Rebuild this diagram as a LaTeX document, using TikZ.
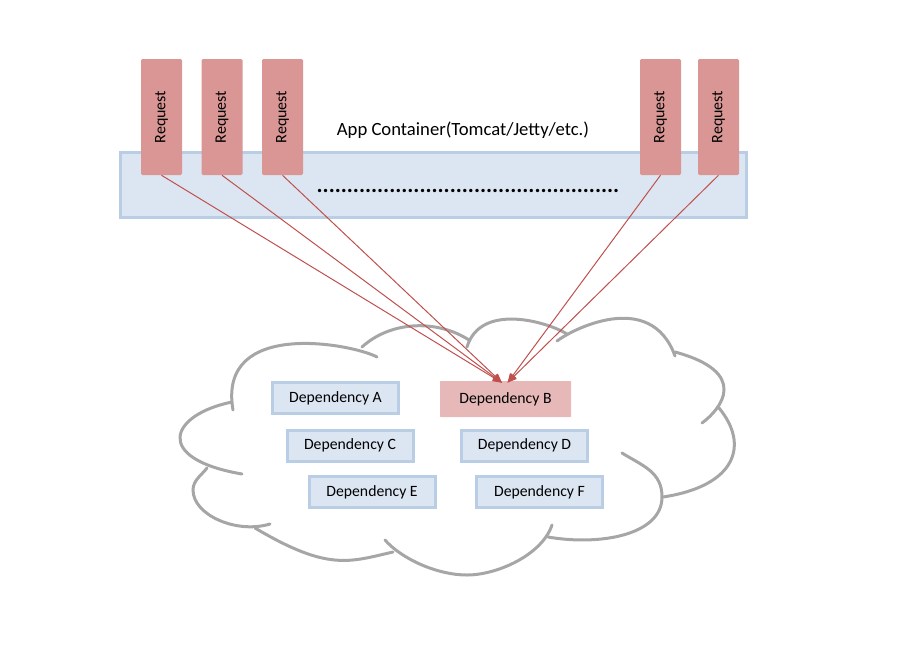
\documentclass[tikz,border=0pt]{standalone}
\usepackage{fontspec}
\setmainfont{Carlito}
\usetikzlibrary{arrows.meta,calc}
\definecolor{boxfill}{HTML}{DCE6F2}
\definecolor{boxline}{HTML}{B9CDE5}
\definecolor{reqfill}{HTML}{D99694}
\definecolor{depBfill}{HTML}{E6B9B8}
\definecolor{arrowc}{HTML}{C0504D}
\definecolor{cloudc}{HTML}{A6A6A6}
\tikzset{
  container/.style={draw=boxline, fill=boxfill, line width=2.25pt, inner sep=0pt,
    minimum width=626*0.75pt, minimum height=65*0.75pt},
  reqbox/.style={fill=reqfill, rounded corners=1pt, inner sep=0pt,
    minimum width=41*0.75pt, minimum height=116*0.75pt, font=\fontsize{12}{14}\selectfont},
  depbox/.style={draw=boxline, fill=boxfill, line width=2.25pt, inner sep=0pt,
    minimum width=126*0.75pt, minimum height=31*0.75pt, font=\fontsize{11.8}{14}\selectfont},
  hotbox/.style={fill=depBfill, inner sep=0pt, rounded corners=0.5pt,
    minimum width=131*0.75pt, minimum height=36*0.75pt, font=\fontsize{11.8}{14}\selectfont},
  reqarrow/.style={draw=arrowc, line width=0.75pt, -{Triangle[length=7pt,width=5.5pt]}},
  cloudline/.style={draw=cloudc, line width=2.25pt, line cap=round},
}
\begin{document}
\begin{tikzpicture}[x=0.75pt,y=-0.75pt]
\useasboundingbox (0,0) rectangle (917,668);

% cloud
\begin{scope}[cloudline]
\draw (233,410) .. controls (217,318) and (353,344) .. (377,357);
\draw (362,347) .. controls (390.5,321) and (436.5,319) .. (469,340);
\draw (467,347) .. controls (480.7,302) and (548,322) .. (567,334);
\draw (557,341) .. controls (571,330) and (650.6,288.4) .. (675,356);
\draw (675,352) .. controls (750.7,372.5) and (721,409) .. (702,423);
\draw (719,408) .. controls (749.3,444.5) and (736.7,485.8) .. (663,497);
\draw (622,453) .. controls (643,466) and (662,472) .. (662,497)
                .. controls (662,535) and (600,546) .. (548,537);
\draw (552,525) .. controls (542,555) and (497,575) .. (467,575)
                .. controls (437,575) and (401.5,558.8) .. (385,540);
\draw (393,552) .. controls (349.2,562) and (328.2,571.4) .. (255,528);
\draw (270,524) .. controls (236.4,534.2) and (193,515) .. (193,490)
                .. controls (193,480) and (202.3,474.5) .. (207,468);
\draw (232,402) .. controls (169.8,414.7) and (152.3,458.6) .. (242,474);
\end{scope}

% app container
\node[container] (app) at (433.5,185) {};
\node[font=\fontsize{14}{16}\selectfont] (apptxt) at (463,130) {App Container(Tomcat/Jetty/etc.)};
\node[anchor=base, inner sep=0pt, font=\fontsize{17}{18}\bfseries] (dots) at (468,192)
  {..................................................};

% requests
\node[reqbox] (r1) at (161.5,117) {\rotatebox{90}{Request}};
\node[reqbox] (r2) at (222,117) {\rotatebox{90}{Request}};
\node[reqbox] (r3) at (282.5,117) {\rotatebox{90}{Request}};
\node[reqbox] (r4) at (660.5,117) {\rotatebox{90}{Request}};
\node[reqbox] (r5) at (718.5,117) {\rotatebox{90}{Request}};

% dependencies
\node[depbox] (depA) at (335.5,398) {Dependency A};
\node[hotbox] (depB) at (505.5,399) {Dependency B};
\node[depbox] (depC) at (350,445.5) {Dependency C};
\node[depbox] (depD) at (524.5,445.5) {Dependency D};
\node[depbox] (depE) at (372,492) {Dependency E};
\node[depbox] (depF) at (539.5,492) {Dependency F};

% arrows
\coordinate (tipL) at ($(depB.north)+(-3.5,2)$);
\coordinate (tipR) at ($(depB.north)+(2,2)$);
\draw[reqarrow] (r1.south) -- (tipL);
\draw[reqarrow] (r2.south) -- (tipL);
\draw[reqarrow] (r3.south) -- (tipL);
\draw[reqarrow] (r4.south) -- (tipR);
\draw[reqarrow] (r5.south) -- (tipR);
\end{tikzpicture}
\end{document}
